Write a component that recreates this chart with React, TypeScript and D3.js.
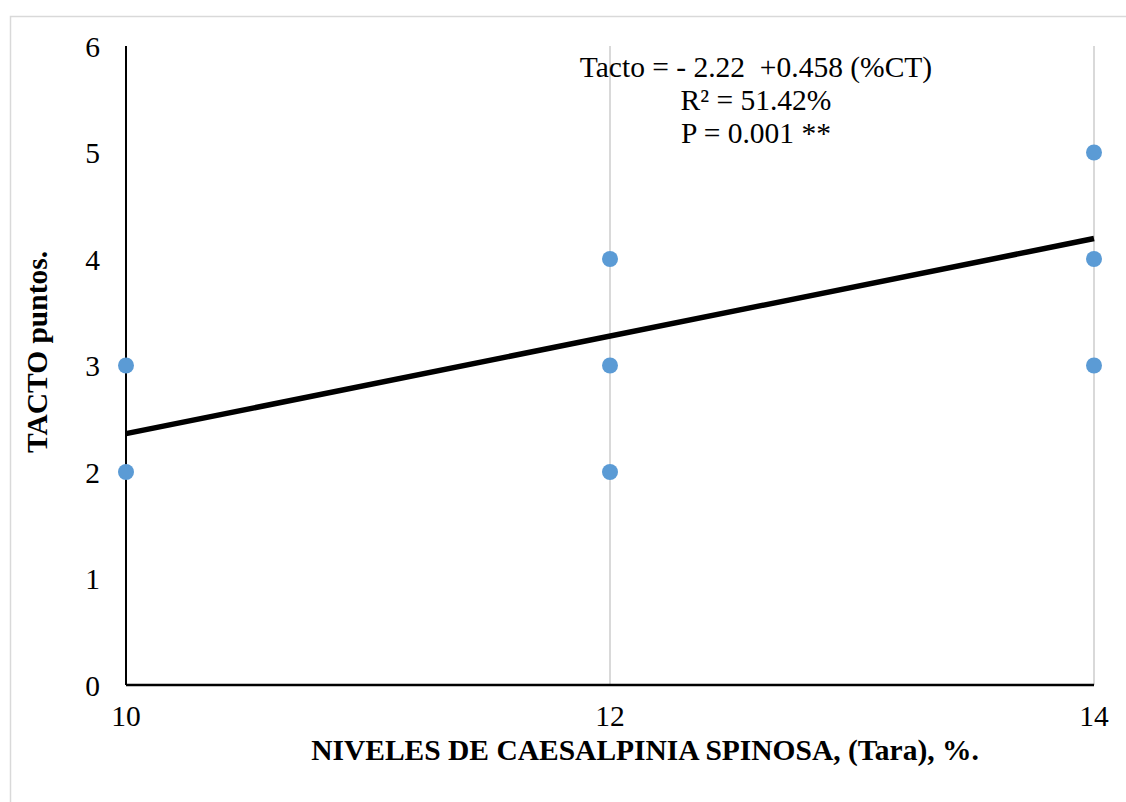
import React from "react";
import * as d3 from "d3";

const xTicks = [10, 12, 14];
const yTicks = [0, 1, 2, 3, 4, 5, 6];
const pointX = [10, 10, 12, 12, 12, 14, 14, 14];
const pointY = [3, 2, 4, 3, 2, 5, 4, 3];
const intercept = -2.22;
const slope = 0.458;
const annotation = ["Tacto = - 2.22  +0.458 (%CT)", "R² = 51.42%", "P = 0.001 **"];
const xTitle = "NIVELES DE CAESALPINIA SPINOSA, (Tara), %.";
const yTitle = "TACTO puntos.";

const W = 1126;
const H = 802;
const FONT = "'Liberation Serif', 'Times New Roman', serif";
const FS = 29.5;

export default function App() {
  const x = d3.scaleLinear().domain([10, 14]).range([126, 1094]);
  const y = d3.scaleLinear().domain([0, 6]).range([685, 46]);
  const line = d3
    .line<number>()
    .x((d) => x(d))
    .y((d) => y(intercept + slope * d));

  return (
    <svg
      width={W}
      height={H}
      style={{ position: "absolute", left: 0, top: 0, background: "#fff" }}
      fontFamily={FONT}
    >
      <rect x={10.5} y={16.5} width={W} height={H} fill="#fff" stroke="#d9d9d9" strokeWidth={1.5} />
      {xTicks.slice(1).map((t) => (
        <line key={t} x1={x(t)} x2={x(t)} y1={y(6)} y2={y(0)} stroke="#d9d9d9" strokeWidth={2} />
      ))}
      <line x1={x(10)} x2={x(10)} y1={y(6)} y2={y(0)} stroke="#000" strokeWidth={2} />
      <line x1={x(10)} x2={x(14)} y1={y(0)} y2={y(0)} stroke="#000" strokeWidth={2.5} />
      {yTicks.map((t) => (
        <text key={t} x={100} y={y(t) + 10.5} textAnchor="end" fontSize={FS} fill="#000">
          {t}
        </text>
      ))}
      {xTicks.map((t) => (
        <text key={t} x={x(t)} y={726} textAnchor="middle" fontSize={FS} fill="#000">
          {t}
        </text>
      ))}
      <path d={line([10, 14]) || ""} stroke="#000" strokeWidth={5.5} fill="none" />
      {pointX.map((px, i) => (
        <circle key={i} cx={x(px)} cy={y(pointY[i])} r={8} fill="#5b9bd5" />
      ))}
      {annotation.map((s, i) => (
        <text key={i} x={756} y={77 + i * 33} textAnchor="middle" fontSize={FS} fill="#000" style={{ whiteSpace: "pre" }}>
          {s}
        </text>
      ))}
      <text x={645} y={760} textAnchor="middle" fontSize={FS} fontWeight="bold" fill="#000">
        {xTitle}
      </text>
      <text
        transform={`translate(47, 352) rotate(-90)`}
        textAnchor="middle"
        fontSize={FS}
        fontWeight="bold"
        fill="#000"
      >
        {yTitle}
      </text>
    </svg>
  );
}
